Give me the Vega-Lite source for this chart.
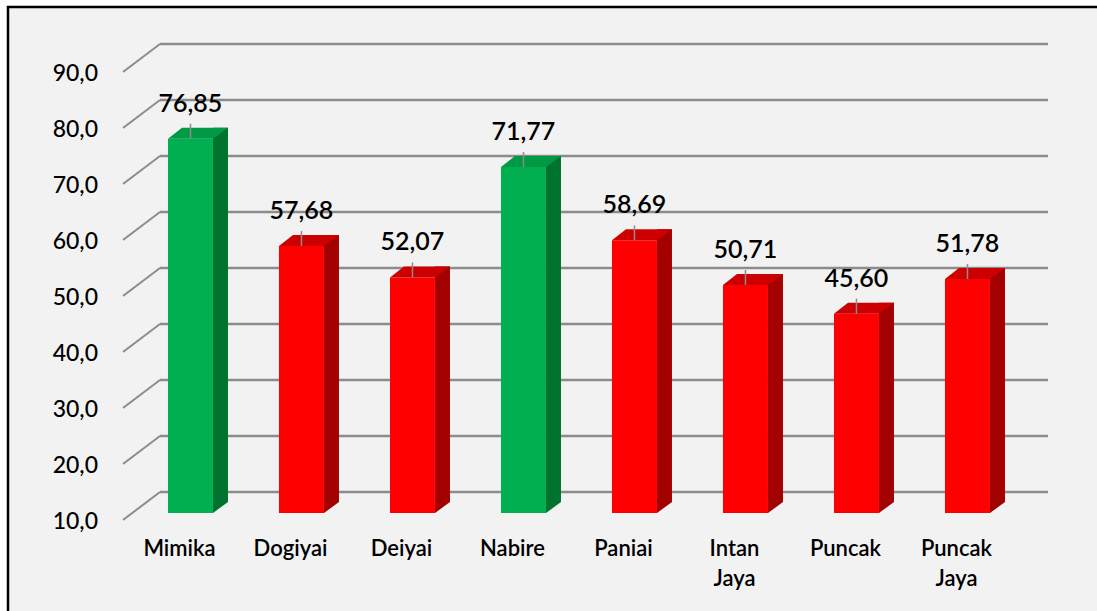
{
  "$schema": "https://vega.github.io/schema/vega-lite/v6.json",
  "width": 1092,
  "height": 606,
  "autosize": "none",
  "padding": {"left": 8, "top": 7, "right": 0, "bottom": 0},
  "background": "#ffffff",
  "config": {
    "view": {"fill": "#f2f2f2", "stroke": "#000000", "strokeWidth": 2.5},
    "font": "Lato",
    "locale": {"number": {"decimal": ",", "thousands": ".", "grouping": [3], "currency": ["", ""]}}
  },
  "datasets": {
    "bars": [
      {"wilayah": "Mimika", "nilai": 76.85},
      {"wilayah": "Dogiyai", "nilai": 57.68},
      {"wilayah": "Deiyai", "nilai": 52.07},
      {"wilayah": "Nabire", "nilai": 71.77},
      {"wilayah": "Paniai", "nilai": 58.69},
      {"wilayah": "Intan Jaya", "nilai": 50.71},
      {"wilayah": "Puncak", "nilai": 45.60},
      {"wilayah": "Puncak Jaya", "nilai": 51.78}
    ],
    "ticks": [
      {"v": 10}, {"v": 20}, {"v": 30}, {"v": 40}, {"v": 50},
      {"v": 60}, {"v": 70}, {"v": 80}, {"v": 90}
    ]
  },
  "layer": [
    {
      "data": {"name": "ticks"},
      "mark": {"type": "rule", "color": "#8c8c8c", "strokeWidth": 2.5, "yOffset": -21, "y2Offset": -21},
      "encoding": {
        "x": {"datum": "Mimika", "type": "nominal", "bandPosition": 0,
              "scale": {"domain": ["Mimika", "Dogiyai", "Deiyai", "Nabire", "Paniai", "Intan Jaya", "Puncak", "Puncak Jaya"],
                        "paddingInner": 0, "paddingOuter": 0.9189, "align": 0.745},
              "axis": null},
        "x2": {"datum": "Puncak Jaya", "bandPosition": 1},
        "y": {"field": "v", "type": "quantitative",
              "scale": {"domain": [-7.857, 100.357], "nice": false, "zero": false},
              "axis": null},
        "y2": {"field": "v"}
      }
    },
    {
      "data": {"name": "ticks"},
      "mark": {"type": "rule", "color": "#8c8c8c", "strokeWidth": 2, "xOffset": -37, "x2Offset": 0, "yOffset": 7, "y2Offset": -21},
      "encoding": {
        "x": {"datum": "Mimika", "type": "nominal", "bandPosition": 0},
        "x2": {"datum": "Mimika", "bandPosition": 0},
        "y": {"field": "v", "type": "quantitative"},
        "y2": {"field": "v"}
      }
    },
    {
      "data": {"name": "ticks"},
      "mark": {"type": "text", "align": "right", "baseline": "middle", "fontSize": 23, "fontWeight": 500, "color": "#000000", "xOffset": -62, "yOffset": 9},
      "encoding": {
        "x": {"datum": "Mimika", "type": "nominal", "bandPosition": 0},
        "y": {"field": "v", "type": "quantitative"},
        "text": {"field": "v", "type": "quantitative", "format": ".1f"}
      }
    },
    {
      "data": {"name": "bars"},
      "mark": {"type": "bar", "width": 15, "xOffset": 5, "yOffset": -11, "y2Offset": -11},
      "encoding": {
        "x": {"field": "wilayah", "type": "nominal", "sort": null},
        "y": {"field": "nilai", "type": "quantitative"},
        "y2": {"datum": 10},
        "color": {"condition": {"test": "datum.nilai > 65", "value": "#00732f"}, "value": "#a30000"}
      }
    },
    {
      "data": {"name": "bars"},
      "mark": {"type": "point", "shape": "M -2.5 -11 L 12.5 -11 L -2.5 0 Z", "size": 4, "filled": true, "opacity": 1, "strokeWidth": 0},
      "encoding": {
        "x": {"field": "wilayah", "type": "nominal", "sort": null},
        "y": {"datum": 10, "type": "quantitative"},
        "color": {"condition": {"test": "datum.nilai > 65", "value": "#00732f"}, "value": "#a30000"}
      }
    },
    {
      "data": {"name": "bars"},
      "mark": {"type": "bar", "width": 45, "xOffset": -25},
      "encoding": {
        "x": {"field": "wilayah", "type": "nominal", "sort": null},
        "y": {"field": "nilai", "type": "quantitative"},
        "y2": {"datum": 10},
        "color": {"condition": {"test": "datum.nilai > 65", "value": "#00b050"}, "value": "#ff0000"}
      }
    },
    {
      "data": {"name": "bars"},
      "mark": {"type": "point", "shape": "M -47.5 0 L -33.5 -11 L 12.5 -11 L -2.5 0 Z", "size": 4, "filled": true, "opacity": 1, "strokeWidth": 0},
      "encoding": {
        "x": {"field": "wilayah", "type": "nominal", "sort": null},
        "y": {"field": "nilai", "type": "quantitative"},
        "color": {"condition": {"test": "datum.nilai > 65", "value": "#009a44"}, "value": "#cc0000"}
      }
    },
    {
      "data": {"name": "bars"},
      "mark": {"type": "rule", "color": "#8c8c8c", "strokeWidth": 1.5, "xOffset": -25, "x2Offset": -25, "yOffset": -15, "y2Offset": 0},
      "encoding": {
        "x": {"field": "wilayah", "type": "nominal", "sort": null},
        "y": {"field": "nilai", "type": "quantitative"},
        "y2": {"field": "nilai"}
      }
    },
    {
      "data": {"name": "bars"},
      "mark": {"type": "text", "align": "center", "baseline": "middle", "fontSize": 25, "fontWeight": 600, "color": "#000000", "xOffset": -25, "yOffset": -35},
      "encoding": {
        "x": {"field": "wilayah", "type": "nominal", "sort": null},
        "y": {"field": "nilai", "type": "quantitative"},
        "text": {"field": "nilai", "type": "quantitative", "format": ".2f"}
      }
    },
    {
      "data": {"name": "bars"},
      "mark": {"type": "text", "align": "center", "baseline": "top", "fontSize": 22, "fontWeight": 600, "color": "#000000", "xOffset": -36, "yOffset": 26, "lineBreak": " ", "lineHeight": 30},
      "encoding": {
        "x": {"field": "wilayah", "type": "nominal", "sort": null},
        "y": {"datum": 10, "type": "quantitative"},
        "text": {"field": "wilayah", "type": "nominal"}
      }
    }
  ]
}
